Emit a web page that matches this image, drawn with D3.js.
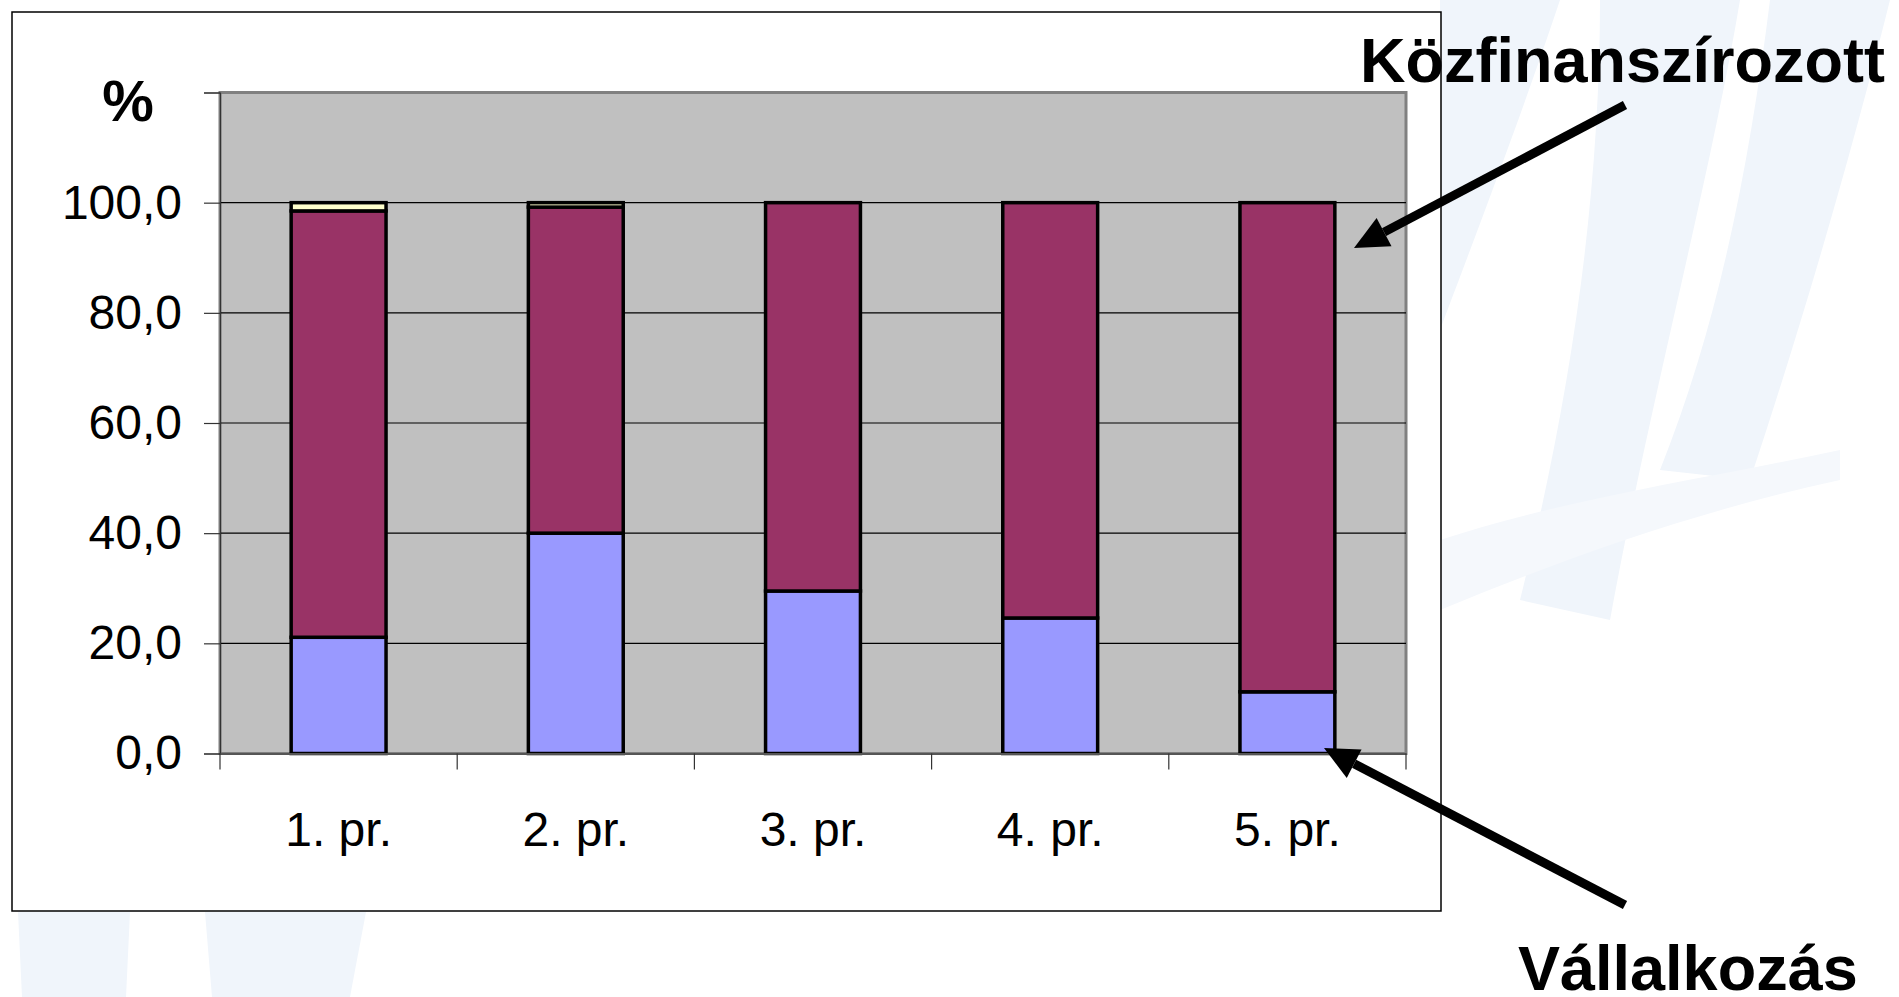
<!DOCTYPE html>
<html lang="hu">
<head>
<meta charset="utf-8">
<script src="https://d3js.org/d3.v7.min.js"></script>
<style>
  body { margin: 0; background: #fff; }
  text { font-family: "Liberation Sans", Arial, sans-serif; }
</style>
</head>
<body>
<script>
// data
var categories = ["1. pr.", "2. pr.", "3. pr.", "4. pr.", "5. pr."];
var vallalkozas = [21.1, 40.0, 29.5, 24.6, 11.2];
var kozfinanszirozott = [77.4, 59.2, 70.5, 75.4, 88.8];
var egyeb = [1.5, 0.8, 0, 0, 0];
var seriesKeys = ["Vállalkozás", "Közfinanszírozott", "Egyéb"];
var seriesColors = ["#9999ff", "#993366", "#ffffcc"];
var yTicks = [0, 20, 40, 60, 80, 100, 120];

var W = 1899, H = 997;
var svg = d3.select("body").append("svg")
    .attr("width", W)
    .attr("height", H);

// faint background watermark
var wm = svg.append("g").attr("fill", "#f0f5fb");
wm.append("path").attr("d", "M1440,0 L1560,0 C1520,120 1470,250 1440,330 Z");
wm.append("path").attr("d", "M1600,0 L1740,0 C1710,180 1650,400 1610,620 L1520,600 C1570,400 1600,200 1600,0 Z");
wm.append("path").attr("d", "M1770,0 L1890,0 C1850,160 1800,330 1750,480 L1660,470 C1720,320 1750,160 1770,0 Z");
wm.append("path").attr("d", "M1440,540 C1560,500 1700,480 1840,450 L1840,480 C1700,510 1560,560 1440,610 Z").attr("fill", "#f5f8fc");
wm.append("path").attr("d", "M18,912 L130,912 L126,997 L22,997 Z");
wm.append("path").attr("d", "M205,912 L366,912 L350,997 L212,997 Z");

// outer frame
svg.append("rect")
    .attr("x", 12).attr("y", 12)
    .attr("width", 1429).attr("height", 899)
    .attr("fill", "#fff")
    .attr("stroke", "#000")
    .attr("stroke-width", 1.5);

var plotLeft = 220, plotRight = 1406, plotTop = 92.5, plotBottom = 753.5;

var x = d3.scaleBand()
    .domain(categories)
    .range([plotLeft, plotRight])
    .paddingInner(0.6)
    .paddingOuter(0.3);

var y = d3.scaleLinear()
    .domain([0, 120])
    .range([plotBottom, plotTop]);

// plot area
svg.append("rect")
    .attr("x", plotLeft).attr("y", plotTop)
    .attr("width", plotRight - plotLeft).attr("height", plotBottom - plotTop)
    .attr("fill", "#c0c0c0")
    .attr("stroke", "#808080")
    .attr("stroke-width", 3);

// gridlines
svg.append("g")
    .selectAll("line")
    .data(yTicks.filter(function(d) { return d > 0 && d < 120; }))
    .enter().append("line")
    .attr("x1", plotLeft).attr("x2", plotRight)
    .attr("y1", function(d) { return y(d); })
    .attr("y2", function(d) { return y(d); })
    .attr("stroke", "#000")
    .attr("stroke-width", 1.2);

// stacked bars
var table = categories.map(function(c, i) {
    return { cat: c, "Vállalkozás": vallalkozas[i], "Közfinanszírozott": kozfinanszirozott[i], "Egyéb": egyeb[i] };
});
var stacked = d3.stack().keys(seriesKeys)(table);

svg.append("g")
    .selectAll("g")
    .data(stacked)
    .enter().append("g")
    .attr("fill", function(d, i) { return seriesColors[i]; })
    .selectAll("rect")
    .data(function(d) { return d.filter(function(p) { return p[1] - p[0] > 0; }); })
    .enter().append("rect")
    .attr("x", function(d) { return x(d.data.cat); })
    .attr("width", x.bandwidth())
    .attr("y", function(d) { return y(d[1]); })
    .attr("height", function(d) { return y(d[0]) - y(d[1]); })
    .attr("stroke", "#000")
    .attr("stroke-width", 3.5);

// y axis
var yAxis = d3.axisLeft(y)
    .tickValues(yTicks)
    .tickSize(16)
    .tickPadding(22)
    .tickFormat(function(d) { return d === 120 ? "" : d3.format(".1f")(d).replace(".", ","); });

var gy = svg.append("g")
    .attr("transform", "translate(" + plotLeft + ",0)")
    .call(yAxis);
gy.select(".domain").attr("stroke", "#333").attr("stroke-width", 1.2);
gy.selectAll(".tick line").attr("stroke", "#333").attr("stroke-width", 1.2);
gy.selectAll(".tick text")
    .attr("font-size", 48)
    .attr("fill", "#000")
    .attr("font-family", "Liberation Sans, Arial, sans-serif");

// x axis, ticks between categories
var xAxis = d3.axisBottom(x).tickSize(0).tickPadding(58);
var gx = svg.append("g")
    .attr("transform", "translate(0," + plotBottom + ")")
    .call(xAxis);
gx.select(".domain").attr("stroke", "#555").attr("stroke-width", 2);
gx.selectAll(".tick text")
    .attr("font-size", 48)
    .attr("fill", "#000")
    .attr("font-family", "Liberation Sans, Arial, sans-serif");

var step = x.step();
gx.append("g")
    .selectAll("line")
    .data(d3.range(categories.length + 1))
    .enter().append("line")
    .attr("x1", function(i) { return plotLeft + i * step; })
    .attr("x2", function(i) { return plotLeft + i * step; })
    .attr("y1", 0).attr("y2", 16)
    .attr("stroke", "#333")
    .attr("stroke-width", 1.2);

// unit label
svg.append("text")
    .attr("x", 128).attr("y", 121)
    .attr("text-anchor", "middle")
    .attr("font-size", 58)
    .attr("font-weight", "bold")
    .text("%");

// annotations
function arrow(x1, y1, x2, y2) {
    var a = Math.atan2(y2 - y1, x2 - x1);
    var len = 34, hw = 16;
    var bx = x2 - len * Math.cos(a), by = y2 - len * Math.sin(a);
    svg.append("line")
        .attr("x1", x1).attr("y1", y1)
        .attr("x2", bx).attr("y2", by)
        .attr("stroke", "#000")
        .attr("stroke-width", 9);
    svg.append("path")
        .attr("d", "M" + x2 + "," + y2 +
            "L" + (bx + hw * Math.sin(a)) + "," + (by - hw * Math.cos(a)) +
            "L" + (bx - hw * Math.sin(a)) + "," + (by + hw * Math.cos(a)) + "Z")
        .attr("fill", "#000");
}

svg.append("text")
    .attr("x", 1360).attr("y", 82)
    .attr("font-size", 63)
    .attr("font-weight", "bold")
    .text("Közfinanszírozott");
arrow(1625, 105, 1354, 248);

svg.append("text")
    .attr("x", 1518).attr("y", 990)
    .attr("font-size", 63)
    .attr("font-weight", "bold")
    .text("Vállalkozás");
arrow(1625, 905, 1324, 748);
</script>
</body>
</html>
